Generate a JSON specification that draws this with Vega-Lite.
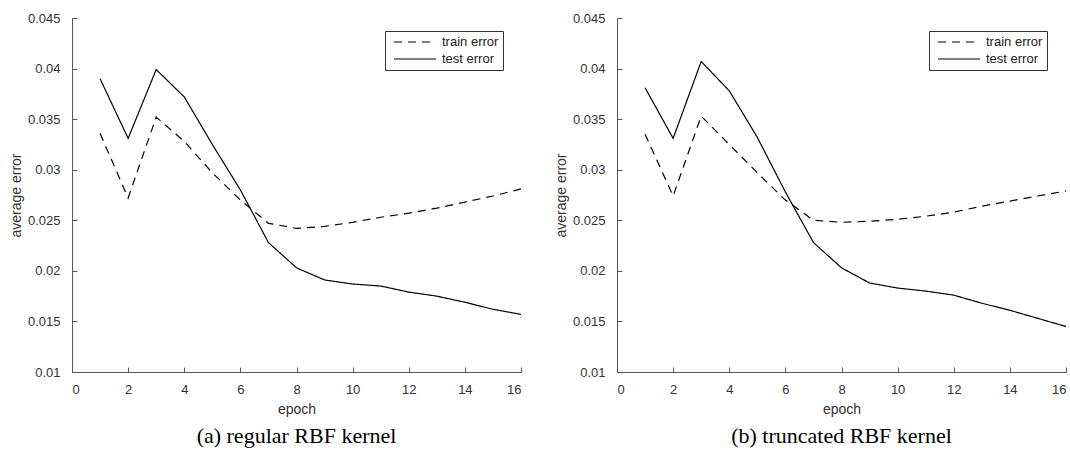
{
  "$schema": "https://vega.github.io/schema/vega-lite/v6.json",
  "background": "white",
  "padding": {"left": 9, "top": 12, "right": 5, "bottom": 5},
  "config": {
    "view": {"stroke": null},
    "font": "Liberation Sans",
    "axis": {
      "grid": false,
      "domainColor": "#555555",
      "tickColor": "#555555",
      "tickSize": -5,
      "labelColor": "#333333",
      "labelFontSize": 13,
      "titleFontSize": 14,
      "titleFontWeight": "normal",
      "titleColor": "#333333"
    },
    "legend": {
      "orient": "none",
      "strokeColor": "#333333",
      "padding": 4,
      "labelFontSize": 13,
      "labelColor": "#222222",
      "labelExpr": "datum.label + '   '",
      "symbolType": "stroke",
      "symbolSize": 1764,
      "symbolOffset": 4,
      "symbolStrokeColor": "black",
      "symbolStrokeWidth": 1.2,
      "labelOffset": 5,
      "rowPadding": 3,
      "clipHeight": 14
    }
  },
  "datasets": {
    "a": [
      {"epoch": 1, "series": "train error", "error": 0.0336},
      {"epoch": 2, "series": "train error", "error": 0.0272},
      {"epoch": 3, "series": "train error", "error": 0.0352},
      {"epoch": 4, "series": "train error", "error": 0.0328},
      {"epoch": 5, "series": "train error", "error": 0.0297},
      {"epoch": 6, "series": "train error", "error": 0.0270},
      {"epoch": 7, "series": "train error", "error": 0.0247},
      {"epoch": 8, "series": "train error", "error": 0.0242},
      {"epoch": 9, "series": "train error", "error": 0.0244},
      {"epoch": 10, "series": "train error", "error": 0.0248},
      {"epoch": 11, "series": "train error", "error": 0.0253},
      {"epoch": 12, "series": "train error", "error": 0.0257},
      {"epoch": 13, "series": "train error", "error": 0.0262},
      {"epoch": 14, "series": "train error", "error": 0.0268},
      {"epoch": 15, "series": "train error", "error": 0.0274},
      {"epoch": 16, "series": "train error", "error": 0.0281},
      {"epoch": 1, "series": "test error", "error": 0.0390},
      {"epoch": 2, "series": "test error", "error": 0.0331},
      {"epoch": 3, "series": "test error", "error": 0.0399},
      {"epoch": 4, "series": "test error", "error": 0.0372},
      {"epoch": 5, "series": "test error", "error": 0.0325},
      {"epoch": 6, "series": "test error", "error": 0.0280},
      {"epoch": 7, "series": "test error", "error": 0.0228},
      {"epoch": 8, "series": "test error", "error": 0.0203},
      {"epoch": 9, "series": "test error", "error": 0.0191},
      {"epoch": 10, "series": "test error", "error": 0.0187},
      {"epoch": 11, "series": "test error", "error": 0.0185},
      {"epoch": 12, "series": "test error", "error": 0.0179},
      {"epoch": 13, "series": "test error", "error": 0.0175},
      {"epoch": 14, "series": "test error", "error": 0.0169},
      {"epoch": 15, "series": "test error", "error": 0.0162},
      {"epoch": 16, "series": "test error", "error": 0.0157}
    ],
    "b": [
      {"epoch": 1, "series": "train error", "error": 0.0335},
      {"epoch": 2, "series": "train error", "error": 0.0274},
      {"epoch": 3, "series": "train error", "error": 0.0353},
      {"epoch": 4, "series": "train error", "error": 0.0325},
      {"epoch": 5, "series": "train error", "error": 0.0297},
      {"epoch": 6, "series": "train error", "error": 0.0270},
      {"epoch": 7, "series": "train error", "error": 0.0250},
      {"epoch": 8, "series": "train error", "error": 0.0248},
      {"epoch": 9, "series": "train error", "error": 0.0249},
      {"epoch": 10, "series": "train error", "error": 0.0251},
      {"epoch": 11, "series": "train error", "error": 0.0254},
      {"epoch": 12, "series": "train error", "error": 0.0258},
      {"epoch": 13, "series": "train error", "error": 0.0264},
      {"epoch": 14, "series": "train error", "error": 0.0269},
      {"epoch": 15, "series": "train error", "error": 0.0274},
      {"epoch": 16, "series": "train error", "error": 0.0279},
      {"epoch": 1, "series": "test error", "error": 0.0381},
      {"epoch": 2, "series": "test error", "error": 0.0331},
      {"epoch": 3, "series": "test error", "error": 0.0407},
      {"epoch": 4, "series": "test error", "error": 0.0378},
      {"epoch": 5, "series": "test error", "error": 0.0332},
      {"epoch": 6, "series": "test error", "error": 0.0278},
      {"epoch": 7, "series": "test error", "error": 0.0228},
      {"epoch": 8, "series": "test error", "error": 0.0203},
      {"epoch": 9, "series": "test error", "error": 0.0188},
      {"epoch": 10, "series": "test error", "error": 0.0183},
      {"epoch": 11, "series": "test error", "error": 0.0180},
      {"epoch": 12, "series": "test error", "error": 0.0176},
      {"epoch": 13, "series": "test error", "error": 0.0168},
      {"epoch": 14, "series": "test error", "error": 0.0161},
      {"epoch": 15, "series": "test error", "error": 0.0153},
      {"epoch": 16, "series": "test error", "error": 0.0145}
    ]
  },
  "bounds": "flush",
  "spacing": 96,
  "resolve": {"scale": {"strokeDash": "independent"}, "legend": {"strokeDash": "independent"}},
  "hconcat": [
    {
      "width": 449,
      "height": 354,
      "data": {"name": "a"},
      "title": {"text": "(a) regular RBF kernel", "orient": "bottom", "font": "Liberation Serif", "fontSize": 22, "fontWeight": "normal", "color": "black", "offset": 10},
      "mark": {"type": "line", "color": "black", "strokeWidth": 1.2},
      "encoding": {
        "x": {"field": "epoch", "type": "quantitative", "scale": {"domain": [0, 16], "nice": false}, "axis": {"values": [0, 2, 4, 6, 8, 10, 12, 14, 16], "title": "epoch", "labelPadding": 16, "titlePadding": 6}},
        "y": {"field": "error", "type": "quantitative", "scale": {"domain": [0.01, 0.045], "nice": false, "zero": false}, "axis": {"values": [0.01, 0.015, 0.02, 0.025, 0.03, 0.035, 0.04, 0.045], "format": "~g", "title": "average error", "labelPadding": 17, "titlePadding": 4}},
        "strokeDash": {"field": "series", "type": "nominal", "scale": {"domain": ["train error", "test error"], "range": [[8, 6], [1, 0]]}, "legend": {"title": null, "legendX": 313, "legendY": 13}}
      }
    },
    {
      "width": 449,
      "height": 354,
      "data": {"name": "b"},
      "title": {"text": "(b) truncated RBF kernel", "orient": "bottom", "font": "Liberation Serif", "fontSize": 22, "fontWeight": "normal", "color": "black", "offset": 10},
      "mark": {"type": "line", "color": "black", "strokeWidth": 1.2},
      "encoding": {
        "x": {"field": "epoch", "type": "quantitative", "scale": {"domain": [0, 16], "nice": false}, "axis": {"values": [0, 2, 4, 6, 8, 10, 12, 14, 16], "title": "epoch", "labelPadding": 16, "titlePadding": 6}},
        "y": {"field": "error", "type": "quantitative", "scale": {"domain": [0.01, 0.045], "nice": false, "zero": false}, "axis": {"values": [0.01, 0.015, 0.02, 0.025, 0.03, 0.035, 0.04, 0.045], "format": "~g", "title": "average error", "labelPadding": 17, "titlePadding": 4}},
        "strokeDash": {"field": "series", "type": "nominal", "scale": {"domain": ["train error", "test error"], "range": [[8, 6], [1, 0]]}, "legend": {"title": null, "legendX": 312, "legendY": 13}}
      }
    }
  ]
}
